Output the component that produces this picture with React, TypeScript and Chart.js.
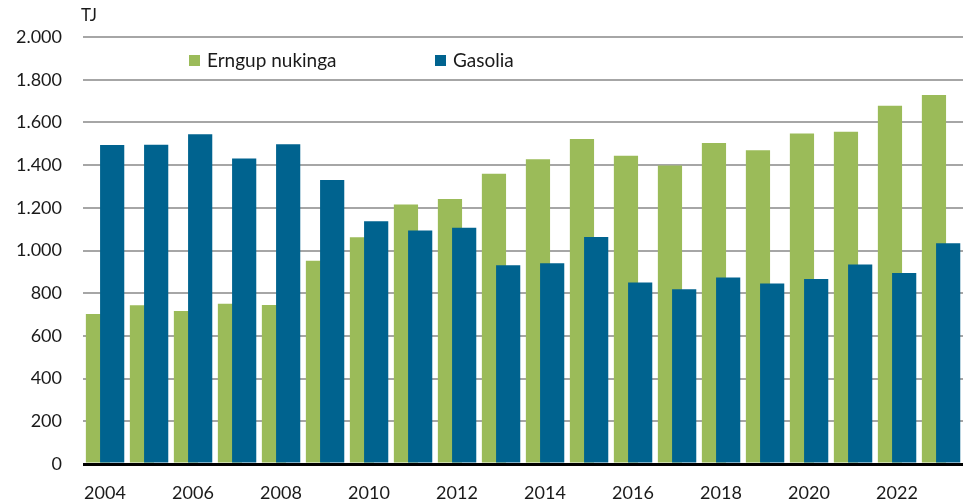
import React, { useEffect, useRef } from "react";
import { Chart, registerables } from "chart.js";

Chart.register(...registerables);

const years = ["2004","2005","2006","2007","2008","2009","2010","2011","2012","2013","2014","2015","2016","2017","2018","2019","2020","2021","2022","2023"];
const erngupNukinga = [703, 744, 717, 751, 745, 952, 1062, 1216, 1241, 1359, 1427, 1522, 1444, 1398, 1503, 1470, 1548, 1556, 1678, 1728];
const gasolia = [1494, 1495, 1544, 1431, 1498, 1330, 1137, 1094, 1107, 931, 940, 1063, 850, 819, 873, 845, 867, 934, 895, 1034];
const seriesNames = ["Erngup nukinga", "Gasolia"];
const unitLabel = "TJ";

const GREEN = "#9BBB59";
const BLUE = "#00638F";
const FONT = "Lato, 'Open Sans', sans-serif";

const fmt = (v: number) => {
  const s = String(Math.round(v));
  return s.replace(/\B(?=(\d{3})+(?!\d))/g, ".");
};

// Shift overlapping bars apart (green left, behind; blue right, in front)
const shiftPlugin = {
  id: "shiftBars",
  afterDatasetsUpdate(chart: any) {
    const xs = chart.scales.x;
    const step = xs.getPixelForValue(1) - xs.getPixelForValue(0);
    const offsets = [-0.16, 0.163];
    chart.data.datasets.forEach((_d: any, di: number) => {
      const meta = chart.getDatasetMeta(di);
      meta.data.forEach((el: any) => {
        el.x = el.x + offsets[di] * step;
      });
    });
  },
};

const overlayPlugin = {
  id: "overlay",
  afterDraw(chart: any) {
    const ctx = chart.ctx;
    ctx.save();
    ctx.fillStyle = "#1a1a1a";
    ctx.font = `17px ${FONT}`;
    ctx.textBaseline = "middle";
    ctx.textAlign = "left";
    ctx.fillText(unitLabel, 81, 16);
    const items = [
      { x: 189, color: GREEN, text: seriesNames[0] },
      { x: 435, color: BLUE, text: seriesNames[1] },
    ];
    ctx.font = `19px ${FONT}`;
    for (const it of items) {
      ctx.fillStyle = it.color;
      ctx.fillRect(it.x, 55, 11, 11);
      ctx.fillStyle = "#1a1a1a";
      ctx.fillText(it.text, it.x + 18, 61);
    }
    ctx.restore();
  },
};

export default function App() {
  const ref = useRef<HTMLCanvasElement | null>(null);
  useEffect(() => {
    if (!ref.current) return;
    const chart = new Chart(ref.current, {
      type: "bar",
      data: {
        labels: years,
        datasets: [
          {
            label: seriesNames[0],
            data: erngupNukinga,
            backgroundColor: GREEN,
            order: 1,
            grouped: false,
            categoryPercentage: 1,
            barPercentage: 0.55,
          },
          {
            label: seriesNames[1],
            data: gasolia,
            backgroundColor: BLUE,
            order: 0,
            grouped: false,
            categoryPercentage: 1,
            barPercentage: 0.55,
          },
        ],
      },
      options: {
        animation: false,
        responsive: true,
        maintainAspectRatio: false,
        layout: { padding: { top: 37, right: 7, left: 0, bottom: 0 } },
        plugins: { legend: { display: false }, tooltip: { enabled: false } },
        scales: {
          x: {
            grid: { display: false },
            border: { display: false },
            ticks: {
              autoSkip: false,
              maxRotation: 0,
              padding: 10,
              color: "#1a1a1a",
              font: { family: FONT, size: 18 },
              callback: (_v: any, i: number) => (i % 2 === 0 ? years[i] : ""),
            },
            afterFit: (s: any) => { s.height = 40; },
          },
          y: {
            min: 0,
            max: 2000,
            border: { display: false },
            grid: {
              drawTicks: false,
              color: (c: any) => (c.tick && c.tick.value === 0 ? "#000000" : "#A6A6A6"),
              lineWidth: (c: any) => (c.tick && c.tick.value === 0 ? 3 : 2),
            },
            ticks: {
              stepSize: 200,
              padding: 21,
              color: "#1a1a1a",
              font: { family: FONT, size: 18 },
              callback: (v: any) => fmt(Number(v)),
            },
            afterFit: (s: any) => { s.width = 83; },
          },
        },
      },
      plugins: [shiftPlugin, overlayPlugin],
    });
    return () => chart.destroy();
  }, []);
  return (
    <div style={{ position: "absolute", left: 0, top: 0, width: 970, height: 504, background: "#fff" }}>
      <canvas ref={ref} />
    </div>
  );
}
